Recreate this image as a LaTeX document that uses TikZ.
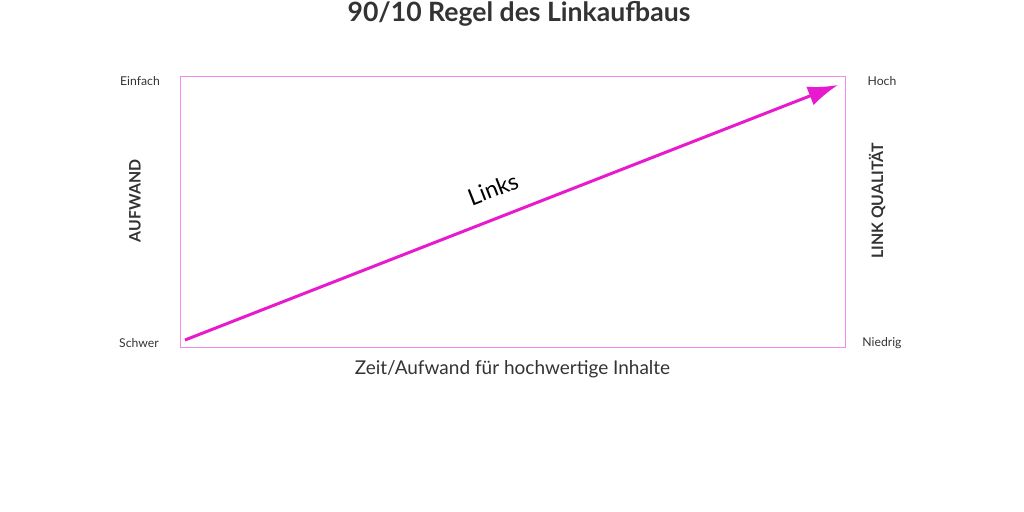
\documentclass[tikz,border=0pt]{standalone}
\usepackage{fontspec}
\setmainfont{Lato}
\usepackage{xcolor}
\usetikzlibrary{arrows.meta,positioning}
\definecolor{linkMagenta}{RGB}{232,26,206}
\definecolor{boxMagenta}{RGB}{240,140,238}
\definecolor{lgray}{RGB}{51,51,51}

\begin{document}
\begin{tikzpicture}[x=0.5pt,y=-0.5pt]
\useasboundingbox (0,0) rectangle (1024,512);
\tikzset{
  tick/.style={text=lgray, font=\fontsize{6.1}{7}\selectfont},
  axislbl/.style={text=lgray, font=\fontsize{7.9}{9}\selectfont\bfseries, rotate=90},
}
\coordinate (plotTL) at (180,76);
\coordinate (plotBR) at (845,347);
\coordinate (plotB) at (512.5,347);
\draw[boxMagenta, line width=0.4pt] (plotTL) rectangle (plotBR);
\node[text=lgray, font=\fontsize{13.3}{15}\selectfont\bfseries] (title) at (519,14) {90/10 Regel des Linkaufbaus};
\node[tick] (einfach) at (140,81) {Einfach};
\node[tick] (schwer) at (139,343) {Schwer};
\node[tick] (hoch) at (882,81) {Hoch};
\node[tick] (niedrig) at (882,343) {Niedrig};
\node[axislbl] (aufwand) at (135,201) {AUFWAND};
\node[axislbl] (qualitaet) at (877,201) {LINK QUALITÄT};
\node[text=lgray, font=\fontsize{9.5}{11}\selectfont, below=3pt of plotB] (xlbl) {Zeit/Aufwand für hochwertige Inhalte};
\coordinate (start) at (185,340);
\coordinate (ende) at (838,85);
\draw[-{Latex[length=15pt,width=10pt]}, linkMagenta, line width=1.5pt] (start) -- (ende);
\node[text=black, font=\fontsize{11.5}{13}\selectfont, rotate=21.3, inner sep=1pt] (links) at (493,189) {Links};
\end{tikzpicture}
\end{document}
